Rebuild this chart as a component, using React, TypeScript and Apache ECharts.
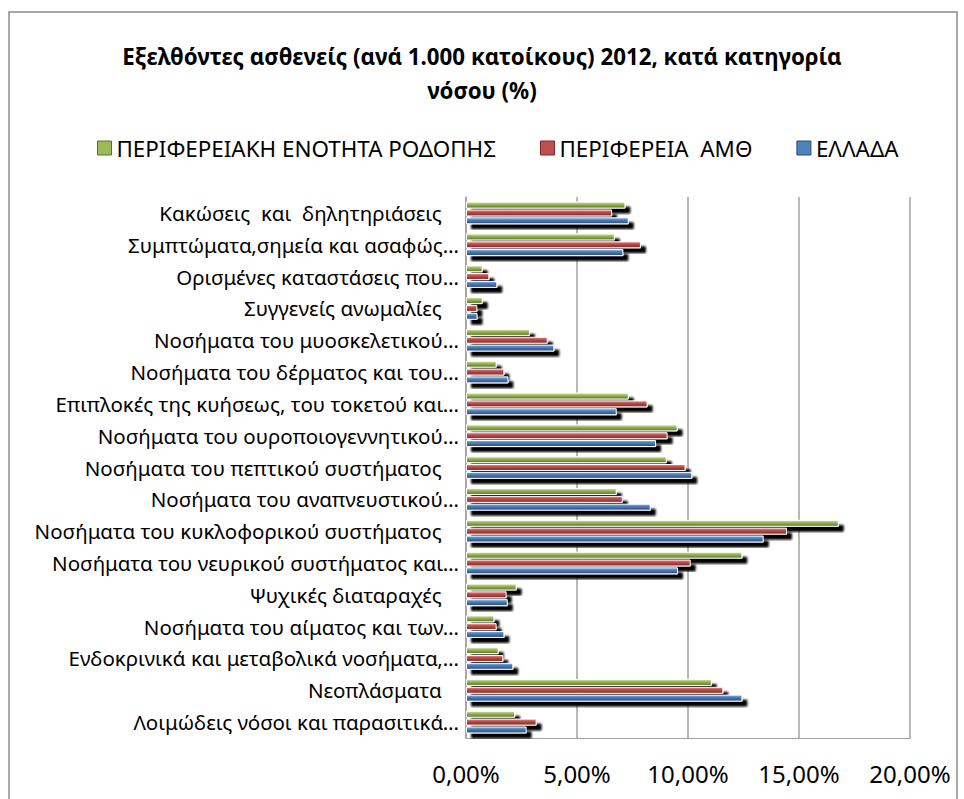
import React, { useEffect, useRef } from "react";
import * as echarts from "echarts";

const categories = [
  "Κακώσεις  και  δηλητηριάσεις ",
  "Συμπτώματα,σημεία και ασαφώς…",
  "Ορισμένες καταστάσεις που…",
  "Συγγενείς ανωμαλίες ",
  "Νοσήματα του μυοσκελετικού…",
  "Νοσήματα του δέρματος και του…",
  "Επιπλοκές της κυήσεως, του τοκετού και…",
  "Νοσήματα του ουροποιογεννητικού…",
  "Νοσήματα του πεπτικού συστήματος ",
  "Νοσήματα του αναπνευστικού…",
  "Νοσήματα του κυκλοφορικού συστήματος ",
  "Νοσήματα του νευρικού συστήματος και…",
  "Ψυχικές διαταραχές ",
  "Νοσήματα του αίματος και των…",
  "Ενδοκρινικά και μεταβολικά νοσήματα,…",
  "Νεοπλάσματα ",
  "Λοιμώδεις νόσοι και παρασιτικά…",
];

const seriesNames = ["ΠΕΡΙΦΕΡΕΙΑΚΗ ΕΝΟΤΗΤΑ ΡΟΔΟΠΗΣ", "ΠΕΡΙΦΕΡΕΙΑ  ΑΜΘ", "ΕΛΛΑΔΑ"];

const rodopi = [7.18, 6.7, 0.75, 0.75, 2.88, 1.38, 7.33, 9.53, 9.04, 6.79, 16.79, 12.45, 2.28, 1.28, 1.47, 11.07, 2.21];
const amth = [6.58, 7.88, 1.05, 0.51, 3.68, 1.73, 8.18, 9.08, 9.89, 7.06, 14.46, 10.12, 1.83, 1.38, 1.68, 11.59, 3.18];
const ellada = [7.33, 7.09, 1.41, 0.52, 3.98, 1.91, 6.79, 8.56, 10.19, 8.32, 13.41, 9.55, 1.88, 1.73, 2.13, 12.45, 2.73];

const xTicks = [0, 5, 10, 15, 20];

const FONT = "'Noto Sans', 'Open Sans', sans-serif";

function grad(light: string, mid: string, dark: string) {
  return new echarts.graphic.LinearGradient(0, 0, 0, 1, [
    { offset: 0, color: light },
    { offset: 0.35, color: mid },
    { offset: 1, color: dark },
  ]);
}

export default function App() {
  const ref = useRef<HTMLDivElement>(null);
  useEffect(() => {
    if (!ref.current) return;
    const chart = echarts.init(ref.current, undefined, { renderer: "svg" });
    const styles = [
      { light: "#d8e8a8", mid: "#9bbb59", dark: "#5a7228" },
      { light: "#f4908c", mid: "#c0504d", dark: "#7a2a28" },
      { light: "#8fb6ea", mid: "#4f81bd", dark: "#2a4a78" },
    ];
    const datas = [rodopi, amth, ellada];
    const series = datas.map((d, i) => ({
      name: seriesNames[i],
      type: "bar" as const,
      data: d,
      barWidth: 7,
      barGap: "12%",
      itemStyle: {
        color: grad(styles[i].light, styles[i].mid, styles[i].dark),
        borderColor: "#ffffff",
        borderWidth: 1,
        shadowColor: "rgba(0,0,0,1)",
        shadowBlur: 2,
        shadowOffsetX: 5,
        shadowOffsetY: 5,
      },
    }));
    chart.setOption({
      animation: false,
      backgroundColor: "#ffffff",
      title: {
        text: "Εξελθόντες ασθενείς (ανά 1.000 κατοίκους) 2012, κατά κατηγορία\nνόσου (%)",
        left: "center",
        top: 34,
        textStyle: {
          fontFamily: FONT,
          fontSize: 22.3,
          fontWeight: "bold",
          color: "#000000",
          lineHeight: 34,
        },
      },
      legend: {
        top: 132,
        left: 92,
        icon: "rect",
        itemWidth: 14,
        itemHeight: 14,
        itemGap: 44,
        textStyle: { fontFamily: FONT, fontSize: 22.4, color: "#000000" },
        data: seriesNames.map((n, i) => ({
          name: n,
          icon: "rect",
          itemStyle: {
            color: styles[i].mid,
            borderColor: styles[i].dark,
            borderWidth: 1,
            shadowBlur: 0,
            shadowOffsetX: 0,
            shadowOffsetY: 0,
            shadowColor: "transparent",
          },
        })),
      },
      graphic: [
        {
          type: "rect",
          shape: { x: 9, y: 12, width: 948, height: 800 },
          style: { fill: "none", stroke: "#8c8c8c", lineWidth: 1.5 },
          silent: true,
        },
      ],
      grid: { left: 466, right: 54, top: 197, bottom: 61 },
      xAxis: {
        type: "value",
        min: 0,
        max: 20,
        interval: 5,
        axisLine: { show: true, lineStyle: { color: "#a0a0a0", width: 1 } },
        axisTick: { show: false },
        splitLine: { show: true, lineStyle: { color: "#a0a0a0", width: 1.5 } },
        axisLabel: {
          fontFamily: FONT,
          fontSize: 24,
          color: "#000000",
          margin: 23,
          formatter: (v: number) => (xTicks.includes(v) ? v.toFixed(2).replace(".", ",") + "%" : ""),
        },
      },
      yAxis: {
        type: "category",
        inverse: true,
        data: categories,
        axisLine: { show: true, lineStyle: { color: "#a0a0a0", width: 1.5 } },
        axisTick: { show: false },
        axisLabel: {
          fontFamily: FONT,
          fontSize: 20.5,
          color: "#000000",
          margin: 7,
          formatter: (v: string) => (v.endsWith("…") ? "{e|" + v + "}" : "{s|" + v + "}"),
          rich: {
            e: { fontFamily: FONT, fontSize: 20.5, color: "#000000" },
            s: { fontFamily: FONT, fontSize: 20.5, color: "#000000", padding: [0, 12, 0, 0] },
          },
        },
      },
      series,
    });
    return () => chart.dispose();
  }, []);
  return (
    <div
      ref={ref}
      style={{ position: "fixed", left: 0, top: 0, width: 964, height: 799, background: "#fff" }}
    />
  );
}
